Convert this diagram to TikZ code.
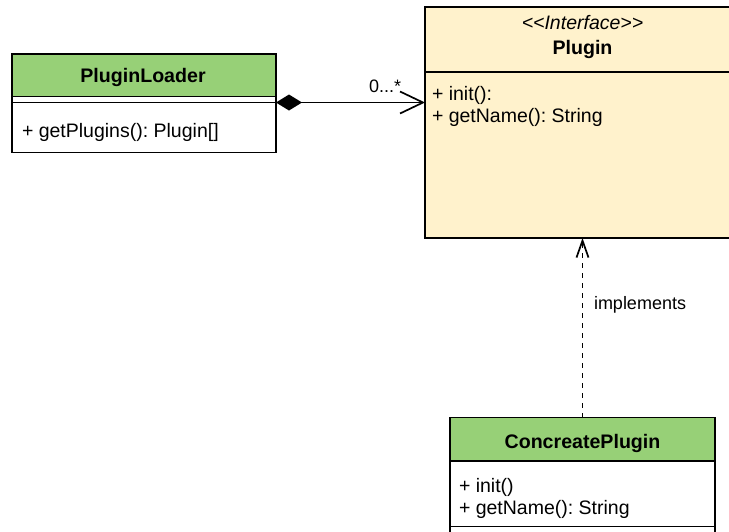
\documentclass[tikz,border=0pt]{standalone}
\usepackage{fontspec}
\setmainfont{Liberation Sans}
\usetikzlibrary{arrows.meta}
\definecolor{hdrgreen}{HTML}{97D077}
\definecolor{ifyellow}{HTML}{FFF2CC}
\frenchspacing
\begin{document}
\begin{tikzpicture}[x=1pt,y=-1pt,
  box/.style={draw=black, line width=1.7pt, rectangle, anchor=north west, inner sep=0pt, outer sep=0pt},
  txt/.style={inner sep=0pt, outer sep=0pt, font=\fontsize{19.5}{22}\selectfont},
  txtb/.style={inner sep=0pt, outer sep=0pt, font=\fontsize{19.6}{22}\selectfont\bfseries},
  txti/.style={inner sep=0pt, outer sep=0pt, font=\fontsize{19.5}{22}\selectfont\itshape},
  lbl/.style={inner sep=0pt, outer sep=0pt, font=\fontsize{18}{21}\selectfont},
  conn/.style={line width=1.7pt, draw=black}]
\clip (0,0) rectangle (729,531);
\fill[white] (0,0) rectangle (729,531);

% PluginLoader
\node[box, fill=hdrgreen, minimum width=264, minimum height=42.5] (loaderHead) at (12,54) {};
\node[box, fill=white, minimum width=264, minimum height=6] (loaderAttr) at (12,96.5) {};
\node[box, fill=white, minimum width=264, minimum height=50] (loaderOps) at (12,102.5) {};
\node[txtb, anchor=base] (loaderName) at (143,82) {PluginLoader};
\node[txt, anchor=base west] (loaderM1) at (22,137) {+ getPlugins(): Plugin[]};

% Plugin interface
\node[box, fill=ifyellow, minimum width=315, minimum height=65] (pluginHead) at (425,7) {};
\node[box, fill=ifyellow, minimum width=315, minimum height=166] (pluginBody) at (425,72) {};
\node[txti, anchor=base] (pluginStereo) at (582.5,29.5) {<\kern0pt<Interface>\kern0pt>};
\node[txtb, anchor=base] (pluginName) at (582.5,54) {Plugin};
\node[txt, anchor=base west] (pluginM1) at (432,100) {+ init():};
\node[txt, anchor=base west] (pluginM2) at (432,122) {+ getName(): String};

% ConcreatePlugin
\node[box, fill=hdrgreen, minimum width=265, minimum height=43.5] (concHead) at (450,417.5) {};
\node[box, fill=white, minimum width=265, minimum height=65.5] (concOps) at (450,461) {};
\node[box, fill=white, minimum width=265, minimum height=20] (concAttr) at (450,526.5) {};
\node[txtb, anchor=base] (concName) at (582.5,448) {ConcreatePlugin};
\node[txt, anchor=base west] (concM1) at (459,492) {+ init()};
\node[txt, anchor=base west] (concM2) at (459,514) {+ getName(): String};

% connectors
\draw[conn, {Diamond[length=26pt,width=16pt]}-{Straight Barb[length=23pt,width=22pt]}]
  (loaderOps.north east) -- (loaderOps.north east -| pluginBody.west);
\node[lbl, anchor=base west] (multLbl) at (369,92.5) {0...*};

\draw[conn, dash pattern=on 5pt off 5pt, -{Straight Barb[length=17pt,width=12pt]}]
  (concHead.north) -- (pluginBody.south);
\node[lbl, anchor=base west] (implLbl) at (594,309) {implements};
\end{tikzpicture}
\end{document}
